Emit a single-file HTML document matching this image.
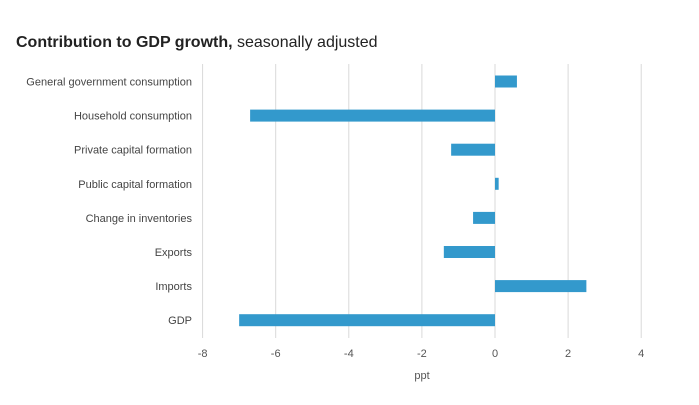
<!DOCTYPE html>
<html><head><meta charset="utf-8">
<style>
body{margin:0;background:#fff;width:699px;height:400px;overflow:hidden;font-family:"Liberation Sans",sans-serif;}
</style></head>
<body>
<svg id="chart" width="699" height="400" xmlns="http://www.w3.org/2000/svg">
<text x="16" y="47" font-size="16" fill="#222"><tspan font-weight="bold">Contribution to GDP growth,</tspan> seasonally adjusted</text>
<g id="grid"></g><g id="bars"></g><g id="ylabels"></g><g id="xticks"></g>
<text x="422" y="379" font-size="11" fill="#555" text-anchor="middle">ppt</text>
</svg>
<script>
const categories=["General government consumption","Household consumption","Private capital formation","Public capital formation","Change in inventories","Exports","Imports","GDP"];
const values=[0.6,-6.7,-1.2,0.1,-0.6,-1.4,2.5,-7.0];
const ticks=[-8,-6,-4,-2,0,2,4];
const tickLabels=["-8","-6","-4","-2","0","2","4"];
const NS="http://www.w3.org/2000/svg";
const x=v=>495+v*36.55;
const y=i=>81.5+i*34.1;
function mk(t,a,p){const e=document.createElementNS(NS,t);for(const k in a)e.setAttribute(k,a[k]);document.getElementById(p).appendChild(e);return e;}
ticks.forEach((t,i)=>{
 const l=mk("line",{x1:x(t),x2:x(t),y1:64,y2:338,stroke:"#d9d9d9","stroke-width":1},"grid");
 
 
 const tx=mk("text",{x:x(t),y:357,"font-size":11,fill:"#555","text-anchor":"middle"},"xticks");
 tx.textContent=tickLabels[i];
 
 
});
categories.forEach((c,i)=>{
 const v=values[i];
 const r=mk("rect",{x:Math.min(x(0),x(v)),y:y(i)-6,width:Math.abs(x(v)-x(0)),height:12,fill:"#3399cc"},"bars");
 
 
 const t=mk("text",{x:192,y:y(i)+4,"font-size":11,fill:"#444","text-anchor":"end"},"ylabels");
 t.textContent=c;
 
 
});
</script>
</body></html>
